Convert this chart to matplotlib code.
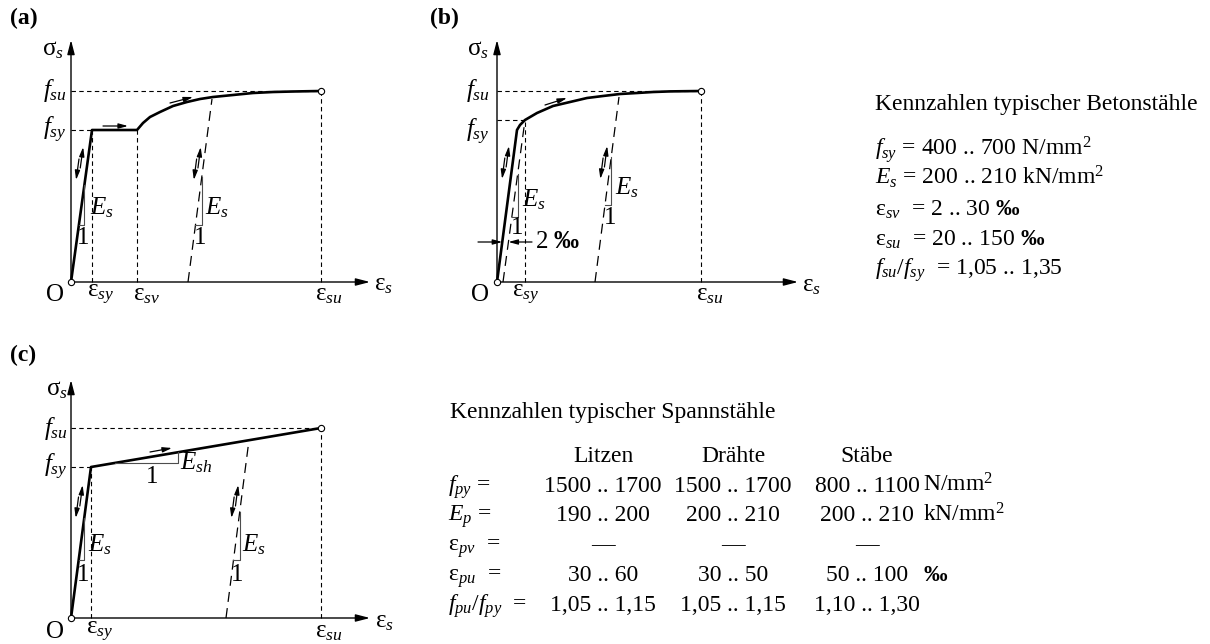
import matplotlib.pyplot as plt

W, H = 1210, 644

plt.rcParams['font.family'] = 'serif'
plt.rcParams['font.serif'] = ['Liberation Serif', 'DejaVu Serif']
plt.rcParams['mathtext.fontset'] = 'custom'
plt.rcParams['mathtext.rm'] = 'Liberation Serif'
plt.rcParams['mathtext.it'] = 'Liberation Serif:italic'
plt.rcParams['mathtext.bf'] = 'Liberation Serif:bold'

FS = 17      # Tabellen
FS_L = 18    # Achsbeschriftungen

# ---------------------------------------------------------
# Daten (schematische Einheiten, 1 Einheit ~ 1 px)
# ---------------------------------------------------------
# (a) Betonstahl mit Fliessplateau
eps_a = [0, 21, 66, 72, 79, 89, 102, 116, 129, 142, 162, 182, 202, 222, 250]
sig_a = [0, 152, 152, 159, 165, 170, 176, 180, 183, 185, 187, 189, 190, 190.5, 191]
eps_sy_a, eps_sv_a, eps_su_a = 21, 66, 250
f_sy_a, f_su_a = 152, 191
unl_eps_a = [117, 141]
unl_sig_a = [0, 183]

# (b) kaltverformter Stahl (0,2%-Grenze)
eps_b = [0, 20, 23, 28, 40, 56, 73, 90, 106, 123, 140, 156, 173, 204]
sig_b = [0, 152, 157, 162, 169, 176, 180, 184, 186, 188, 189, 190, 190.6, 191]
eps_sy_b, eps_su_b = 28, 204
f_sy_b, f_su_b = 162, 191
off_eps_b = [6, 28]
off_sig_b = [0, 162]
unl_eps_b = [98, 122]
unl_sig_b = [0, 185]

# (c) bilinear mit Verfestigung
eps_c = [0, 20, 250]
sig_c = [0, 151, 190]
eps_sy_c, eps_su_c = 20, 250
f_sy_c, f_su_c = 151, 190
unl_eps_c = [155, 178]
unl_sig_c = [0, 178]

# Kennzahlen
beton_rows = [r'$f_{sy}$ = 400 .. 700 N/mm$^{2}$',
              r'$E_s$ = 200 .. 210 kN/mm$^2$',
              r'$\mathrm{ε}_{sv}$  = 2 .. 30 $\mathbf{‰}$',
              r'$\mathrm{ε}_{su}$  = 20 .. 150 $\mathbf{‰}$',
              r'$f_{su}/f_{sy}$  = 1,05 .. 1,35']
spann_cols = ['Litzen', 'Drähte', 'Stäbe']
spann_rows = [r'$f_{py}$ =', r'$E_p$ =', r'$\mathrm{ε}_{pv}$  =',
              r'$\mathrm{ε}_{pu}$  =', r'$f_{pu}/f_{py}$  =']
spann_vals = [['1500 .. 1700', '1500 .. 1700', '800 .. 1100'],
              ['190 .. 200', '200 .. 210', '200 .. 210'],
              ['—', '—', '—'],
              ['30 .. 60', '30 .. 50', '50 .. 100'],
              ['1,05 .. 1,15', '1,05 .. 1,15', '1,10 .. 1,30']]
spann_units = ['N/mm$^2$', 'kN/mm$^2$', '', r'$\mathbf{‰}$', '']

fig = plt.figure(figsize=(W / 100, H / 100), dpi=100)

GUIDE = dict(color='k', lw=0.8, ls=(0, (4, 3)))
UNLOAD = dict(color='k', lw=0.9, ls=(0, (8, 5)))


def px(x, y):
    return x / W, 1 - y / H


def panel(x0, y0):
    # x0, y0: Lage des Ursprungs in Pixeln
    ax = fig.add_axes([(x0 - 45) / W, (H - y0 - 30) / H, 380 / W, 300 / H])
    ax.set_xlim(-45, 335)
    ax.set_ylim(-30, 270)
    ax.axis('off')
    return ax


def pfeil(ax, p0, p1, gross=False):
    if gross:
        st = '-|>,head_length=0.85,head_width=0.22'
        lw = 1.0
    else:
        st = '-|>,head_length=0.55,head_width=0.15'
        lw = 0.9
    ax.annotate('', xy=p1, xytext=p0, annotation_clip=False,
                arrowprops=dict(arrowstyle=st, color='k', lw=lw,
                                shrinkA=0, shrinkB=0, mutation_scale=10))


def achsen(ax, x_end, y_end):
    pfeil(ax, (0, 0), (x_end, 0), gross=True)
    pfeil(ax, (0, 0), (0, y_end), gross=True)


def doppelpfeil(ax, xb, k, yc, d):
    x = lambda y: xb + k * y - d
    pfeil(ax, (x(yc - 5), yc - 5), (x(yc + 16), yc + 16))
    pfeil(ax, (x(yc + 4) - 2.5, yc + 4), (x(yc - 17) - 2.5, yc - 17))


def dreieck(ax, xb, k, y1, y2):
    xa, xc = xb + k * y1, xb + k * y2
    ax.plot([xa, xc, xc], [y1, y1, y2], color='0.3', lw=0.8)


def kreis(ax, x, y):
    ax.plot(x, y, 'o', ms=4.5, mfc='white', mec='k', mew=0.8, zorder=5, clip_on=False)


def lab(ax, x, y, s, ha='center', fs=FS_L):
    ax.text(x, y, s, ha=ha, va='center', fontsize=fs)


# ---------------------------------------------------------
# (a)
# ---------------------------------------------------------
ax = panel(71, 282)
achsen(ax, 299, 242)
ax.plot([0, eps_sy_a], [f_sy_a, f_sy_a], **GUIDE)
ax.plot([0, eps_su_a], [f_su_a, f_su_a], **GUIDE)
for e, f in [(eps_sy_a, f_sy_a), (eps_sv_a, f_sy_a), (eps_su_a, f_su_a)]:
    ax.plot([e, e], [0, f], **GUIDE)
ax.plot(unl_eps_a, unl_sig_a, **UNLOAD)
ax.plot(eps_a, sig_a, color='k', lw=1.9, solid_joinstyle='round')
kreis(ax, 0, 0)
kreis(ax, eps_su_a, f_su_a)
k_a = eps_sy_a / f_sy_a
k_ua = (unl_eps_a[1] - unl_eps_a[0]) / unl_sig_a[1]
doppelpfeil(ax, 0, k_a, 119, 6.5)
doppelpfeil(ax, unl_eps_a[0], k_ua, 119, 5)
dreieck(ax, 0, k_a, 57, 97)
dreieck(ax, unl_eps_a[0], k_ua, 57, 105)
pfeil(ax, (32, 156), (57, 156))
pfeil(ax, (99, 179), (122, 185))
lab(ax, -18, 232, r'$\mathrm{σ}_s$')
lab(ax, -4, f_su_a, r'$f_{su}$', ha='right')
lab(ax, -4, f_sy_a, r'$f_{sy}$', ha='right')
lab(ax, -16, -13, 'O')
lab(ax, eps_sy_a - 5, -13, r'$\mathrm{ε}_{sy}$', ha='left')
lab(ax, eps_sv_a - 4, -13, r'$\mathrm{ε}_{sv}$', ha='left')
lab(ax, eps_su_a - 6, -13, r'$\mathrm{ε}_{su}$', ha='left')
lab(ax, 303, -3, r'$\mathrm{ε}_s$', ha='left')
lab(ax, 19, 74, r'$E_s$', ha='left')
lab(ax, 12.5, 44, '1')
lab(ax, 134, 74, r'$E_s$', ha='left')
lab(ax, 129, 44, '1')

# ---------------------------------------------------------
# (b)
# ---------------------------------------------------------
ax = panel(497, 282)
achsen(ax, 301, 242)
ax.plot([0, eps_sy_b], [f_sy_b, f_sy_b], **GUIDE)
ax.plot([0, eps_su_b], [f_su_b, f_su_b], **GUIDE)
ax.plot([eps_sy_b, eps_sy_b], [0, f_sy_b], **GUIDE)
ax.plot([eps_su_b, eps_su_b], [0, f_su_b], **GUIDE)
ax.plot(off_eps_b, off_sig_b, **UNLOAD)
ax.plot(unl_eps_b, unl_sig_b, **UNLOAD)
ax.plot(eps_b, sig_b, color='k', lw=1.9, solid_joinstyle='round')
kreis(ax, 0, 0)
kreis(ax, eps_su_b, f_su_b)
k_b = eps_b[1] / sig_b[1]
k_ob = (off_eps_b[1] - off_eps_b[0]) / off_sig_b[1]
k_ub = (unl_eps_b[1] - unl_eps_b[0]) / unl_sig_b[1]
doppelpfeil(ax, 0, k_b, 120, 6)
doppelpfeil(ax, unl_eps_b[0], k_ub, 120, 5.5)
dreieck(ax, off_eps_b[0], k_ob, 65, 108)
dreieck(ax, unl_eps_b[0], k_ub, 77, 125)
pfeil(ax, (48, 177), (70, 184))
# 2 Promille Versatz
pfeil(ax, (-19, 40), (k_b * 40, 40))
pfeil(ax, (35, 40), (off_eps_b[0] + k_ob * 40, 40))
lab(ax, 38, 40, r'2 $\mathbf{‰}$', ha='left')
lab(ax, -19, 232, r'$\mathrm{σ}_s$')
lab(ax, -7, f_su_b, r'$f_{su}$', ha='right')
lab(ax, -7, f_sy_b - 12, r'$f_{sy}$', ha='right')
lab(ax, -17, -13, 'O')
lab(ax, eps_sy_b - 13, -13, r'$\mathrm{ε}_{sy}$', ha='left')
lab(ax, eps_su_b - 5, -13, r'$\mathrm{ε}_{su}$', ha='left')
lab(ax, 305, -4, r'$\mathrm{ε}_s$', ha='left')
lab(ax, 25, 82, r'$E_s$', ha='left')
lab(ax, 20, 54, '1')
lab(ax, 118, 94, r'$E_s$', ha='left')
lab(ax, 113, 64, '1')

# ---------------------------------------------------------
# (c)
# ---------------------------------------------------------
ax = panel(71, 618)
achsen(ax, 299, 238)
ax.plot([0, eps_sy_c], [f_sy_c, f_sy_c], **GUIDE)
ax.plot([0, eps_su_c], [f_su_c, f_su_c], **GUIDE)
ax.plot([eps_sy_c, eps_sy_c], [0, f_sy_c], **GUIDE)
ax.plot([eps_su_c, eps_su_c], [0, f_su_c], **GUIDE)
ax.plot(unl_eps_c, unl_sig_c, **UNLOAD)
ax.plot(eps_c, sig_c, color='k', lw=1.9, solid_joinstyle='round')
kreis(ax, 0, 0)
kreis(ax, eps_su_c, f_su_c)
k_c = eps_sy_c / f_sy_c
k_uc = (unl_eps_c[1] - unl_eps_c[0]) / unl_sig_c[1]
doppelpfeil(ax, 0, k_c, 117, 6)
doppelpfeil(ax, unl_eps_c[0], k_uc, 117, 5)
dreieck(ax, 0, k_c, 58, 100)
dreieck(ax, unl_eps_c[0], k_uc, 58, 106)
# Verfestigungsdreieck E_sh
m_c = (f_su_c - f_sy_c) / (eps_su_c - eps_sy_c)
x1 = eps_sy_c + 4 / m_c
ax.plot([x1, 107, 107], [155, 155, f_sy_c + m_c * (107 - eps_sy_c)], color='0.3', lw=0.8)
pfeil(ax, (79, 166), (101, 170))
lab(ax, -14, 228, r'$\mathrm{σ}_s$')
lab(ax, -3, f_su_c, r'$f_{su}$', ha='right')
lab(ax, -3, f_sy_c, r'$f_{sy}$', ha='right')
lab(ax, -16, -14, 'O')
lab(ax, eps_sy_c - 5, -14, r'$\mathrm{ε}_{sy}$', ha='left')
lab(ax, eps_su_c - 6, -14, r'$\mathrm{ε}_{su}$', ha='left')
lab(ax, 304, -4, r'$\mathrm{ε}_s$', ha='left')
lab(ax, 17, 73, r'$E_s$', ha='left')
lab(ax, 12, 43, '1')
lab(ax, 171, 73, r'$E_s$', ha='left')
lab(ax, 166, 43, '1')
lab(ax, 109, 155, r'$E_{sh}$', ha='left')
lab(ax, 81, 141, '1')

# Panel-Buchstaben
for s, x, y in [('(a)', 10, 18), ('(b)', 430, 18), ('(c)', 10, 355)]:
    fig.text(*px(x, y), s, fontsize=FS, fontweight='bold', va='center')

# ---------------------------------------------------------
# Kennzahlen typischer Betonstähle
# ---------------------------------------------------------
fig.text(*px(875, 110), 'Kennzahlen typischer Betonstähle', fontsize=FS, va='baseline')
for s, yb in zip(beton_rows, [155, 184, 216, 246, 275]):
    fig.text(*px(875, yb), s, fontsize=FS, va='baseline')

# ---------------------------------------------------------
# Kennzahlen typischer Spannstähle
# ---------------------------------------------------------
fig.text(*px(450, 418), 'Kennzahlen typischer Spannstähle', fontsize=FS, va='baseline')
col_x = [603, 733, 867]
for s, x in zip(spann_cols, col_x):
    fig.text(*px(x, 462), s, fontsize=FS, ha='center', va='baseline')
row_y = [492, 521, 551, 581, 611]
for i, yb in enumerate(row_y):
    fig.text(*px(448, yb), spann_rows[i], fontsize=FS, va='baseline')
    for j, x in enumerate(col_x):
        fig.text(*px(x, yb), spann_vals[i][j], fontsize=FS, ha='center', va='baseline')
    if spann_units[i]:
        fig.text(*px(923, yb), spann_units[i], fontsize=FS, va='baseline')

fig.savefig('out.png', dpi=100)
